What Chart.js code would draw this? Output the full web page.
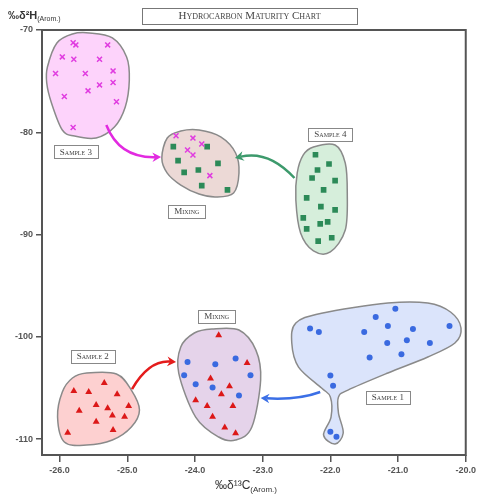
<!DOCTYPE html>
<html>
<head>
<meta charset="utf-8">
<script src="https://cdn.jsdelivr.net/npm/chart.js@4.4.1/dist/chart.umd.min.js"></script>
<style>
html, body { margin: 0; padding: 0; background: #fff; }
#wrap { width: 479px; height: 496px; }
</style>
</head>
<body>
<div id="wrap"><canvas id="chart"></canvas></div>
<script>
// tick values
const xTicks = [-26, -25, -24, -23, -22, -21, -20];
const yTicks = [-70, -80, -90, -100, -110];

// point series [d13C, d2H]
const sample3 = [[-25.80, -71.24], [-25.76, -71.46], [-25.29, -71.46], [-25.96, -72.63], [-25.79, -72.86],
    [-25.41, -72.86], [-26.06, -74.26], [-25.62, -74.26], [-25.21, -74.0], [-25.41, -75.37],
    [-25.21, -75.14], [-25.58, -75.95], [-25.93, -76.5], [-25.16, -77.02], [-25.80, -79.53]];
const mixTopX = [[-24.28, -80.34], [-24.03, -80.57], [-23.90, -81.15], [-24.11, -81.74], [-24.03, -82.22], [-23.78, -84.24]];
const mixTopSq = [[-24.32, -81.41], [-23.82, -81.41], [-24.25, -82.78], [-23.66, -83.04], [-23.95, -83.69],
    [-24.16, -83.92], [-23.90, -85.22], [-23.52, -85.64]];
const sample4 = [[-22.22, -82.20], [-22.02, -83.10], [-22.19, -83.69], [-22.27, -84.47], [-21.93, -84.73],
    [-22.10, -85.64], [-22.35, -86.42], [-22.14, -87.27], [-21.93, -87.59], [-22.40, -88.37],
    [-22.15, -88.96], [-22.04, -88.76], [-22.35, -89.44], [-22.18, -90.65], [-21.98, -90.32]];
const sample2 = [[-25.34, -104.51], [-25.79, -105.29], [-25.57, -105.39], [-25.15, -105.61], [-25.46, -106.68],
    [-24.98, -106.78], [-25.29, -107.0], [-25.71, -107.24], [-25.22, -107.69], [-25.04, -107.82],
    [-25.46, -108.31], [-25.88, -109.39], [-25.21, -109.12]];
const mixLowTri = [[-23.65, -99.85], [-23.23, -102.56], [-23.77, -104.08], [-23.49, -104.83], [-23.61, -105.61],
    [-23.99, -106.20], [-23.82, -106.78], [-23.44, -106.78], [-23.74, -107.82], [-23.56, -108.86], [-23.40, -109.44]];
const mixLowDot = [[-24.11, -102.46], [-23.70, -102.68], [-23.40, -102.13], [-24.16, -103.76], [-23.18, -103.76],
    [-23.99, -104.63], [-23.74, -104.96], [-23.35, -105.74]];
const sample1 = [[-22.30, -99.20], [-22.17, -99.53], [-21.04, -97.25], [-21.33, -98.07], [-21.50, -99.53],
    [-21.15, -98.95], [-20.78, -99.24], [-20.24, -98.95], [-21.16, -100.60], [-20.87, -100.34],
    [-20.53, -100.60], [-20.95, -101.71], [-21.42, -102.03], [-22.00, -103.79], [-21.96, -104.80],
    [-22.00, -109.29], [-21.91, -109.78]];

// group outlines, data units
const hull3 = [[-26.18, -73.62], [-26.04, -71.27], [-25.81, -70.39], [-25.56, -70.29], [-25.22, -70.78],
    [-25.01, -72.64], [-24.97, -74.89], [-25.03, -77.53], [-25.19, -79.49], [-25.46, -80.56],
    [-25.78, -80.37], [-25.96, -79.78], [-26.12, -77.14], [-26.19, -75.18]];
const hullMixTop = [[-24.49, -82.52], [-24.41, -80.56], [-24.21, -79.88], [-23.94, -79.78], [-23.62, -80.46],
    [-23.40, -82.03], [-23.35, -83.99], [-23.43, -85.94], [-23.69, -86.33], [-23.94, -86.04],
    [-24.21, -85.16], [-24.41, -83.99]];
const hull4 = [[-22.25, -81.44], [-21.93, -81.25], [-21.78, -83.01], [-21.75, -85.94], [-21.78, -89.56],
    [-22.00, -91.70], [-22.25, -91.60], [-22.44, -89.85], [-22.51, -86.63], [-22.49, -83.99], [-22.40, -82.22]];
const hull2 = [[-25.60, -103.55], [-25.16, -103.64], [-24.94, -105.21], [-24.82, -107.16], [-24.94, -108.83],
    [-25.22, -110.10], [-25.60, -110.59], [-25.93, -110.29], [-26.03, -107.85], [-25.96, -105.40], [-25.81, -104.03]];
const hullMixLow = [[-23.75, -99.24], [-23.35, -99.34], [-23.10, -101.30], [-23.03, -104.23], [-23.16, -108.83],
    [-23.40, -110.10], [-23.65, -109.80], [-23.99, -107.85], [-24.24, -103.55], [-24.21, -101.00], [-24.01, -99.63]];
const hull1 = [[-22.51, -98.66], [-22.13, -97.70], [-21.15, -96.70], [-20.56, -96.70], [-20.22, -97.60],
    [-20.07, -99.14], [-20.16, -100.61], [-20.56, -101.98], [-21.15, -103.54], [-21.74, -105.21],
    [-21.88, -105.89], [-21.88, -107.46], [-21.81, -109.41], [-21.93, -110.49], [-22.10, -109.61],
    [-21.99, -107.85], [-22.00, -105.89], [-22.13, -105.01], [-22.47, -102.96], [-22.57, -100.61]];

// arrows: start, control, end
const arrow3 = [[-25.31, -79.29], [-25.12, -82.52], [-24.50, -82.42]];
const arrow4 = [[-22.53, -84.47], [-22.91, -81.74], [-23.41, -82.52]];
const arrow2 = [[-24.93, -105.11], [-24.68, -102.27], [-24.28, -102.47]];
const arrow1 = [[-22.15, -105.40], [-22.47, -106.19], [-23.03, -105.99]];

const labelNames = ['Sample 3', 'Mixing', 'Sample 4', 'Sample 2', 'Mixing', 'Sample 1'];
const labelSpots = [[-25.76, -81.93], [-24.12, -87.70], [-22.0, -80.17], [-25.51, -101.88], [-23.68, -97.97], [-21.15, -105.89]];

const hulls = [
    { pts: hull3, fill: '#fdd3fb' },
    { pts: hullMixTop, fill: '#ecd9d6' },
    { pts: hull4, fill: '#d6eedb' },
    { pts: hull2, fill: '#fdd0d0' },
    { pts: hullMixLow, fill: '#e5d3ea' },
    { pts: hull1, fill: '#dbe4fb' },
];
const arrows = [
    { pts: arrow3, color: '#e22ae0' },
    { pts: arrow4, color: '#3d9a6c' },
    { pts: arrow2, color: '#e41c1c' },
    { pts: arrow1, color: '#3b6fe6' },
];

const toXY = (arr) => arr.map(p => ({ x: p[0], y: p[1] }));

function smoothClosed(ctx, pts) {
    const n = pts.length;
    ctx.beginPath();
    ctx.moveTo(pts[0][0], pts[0][1]);
    for (let i = 0; i < n; i++) {
        const p0 = pts[(i - 1 + n) % n], p1 = pts[i], p2 = pts[(i + 1) % n], p3 = pts[(i + 2) % n];
        ctx.bezierCurveTo(
            p1[0] + (p2[0] - p0[0]) / 6, p1[1] + (p2[1] - p0[1]) / 6,
            p2[0] - (p3[0] - p1[0]) / 6, p2[1] - (p3[1] - p1[1]) / 6,
            p2[0], p2[1]);
    }
    ctx.closePath();
}

const decorations = {
    id: 'decorations',
    beforeDatasetsDraw(chart) {
        const { ctx, scales: { x, y } } = chart;
        const px = (p) => [x.getPixelForValue(p[0]), y.getPixelForValue(p[1])];
        ctx.save();
        hulls.forEach(h => {
            smoothClosed(ctx, h.pts.map(px));
            ctx.fillStyle = h.fill;
            ctx.fill();
            ctx.lineWidth = 1.5;
            ctx.strokeStyle = '#8a8a8a';
            ctx.stroke();
        });
        arrows.forEach(a => {
            const [s, c, e] = a.pts.map(px);
            ctx.strokeStyle = a.color;
            ctx.fillStyle = a.color;
            ctx.lineWidth = 2.5;
            const ang = Math.atan2(e[1] - c[1], e[0] - c[0]);
            const back = [e[0] - 6 * Math.cos(ang), e[1] - 6 * Math.sin(ang)];
            ctx.beginPath();
            ctx.moveTo(s[0], s[1]);
            ctx.quadraticCurveTo(c[0], c[1], back[0], back[1]);
            ctx.stroke();
            ctx.beginPath();
            ctx.moveTo(e[0], e[1]);
            ctx.lineTo(e[0] - 10 * Math.cos(ang - 0.5), e[1] - 10 * Math.sin(ang - 0.5));
            ctx.lineTo(back[0], back[1]);
            ctx.lineTo(e[0] - 10 * Math.cos(ang + 0.5), e[1] - 10 * Math.sin(ang + 0.5));
            ctx.closePath();
            ctx.fill();
        });
        ctx.restore();
    },
    afterDraw(chart) {
        const { ctx, chartArea: a, scales: { x, y } } = chart;
        ctx.save();
        // frame
        ctx.strokeStyle = '#555';
        ctx.lineWidth = 2;
        ctx.strokeRect(a.left, a.top, a.right - a.left, a.bottom - a.top);

        // group labels
        ctx.font = "small-caps 9px 'Liberation Serif'";
        ctx.fontVariantCaps = 'small-caps';
        ctx.textAlign = 'center';
        ctx.textBaseline = 'middle';
        labelNames.forEach((name, i) => {
            const cx = x.getPixelForValue(labelSpots[i][0]);
            const cy = y.getPixelForValue(labelSpots[i][1]);
            const w = ctx.measureText(name).width + 12;
            ctx.fillStyle = '#fff';
            ctx.fillRect(cx - w / 2, cy - 6.5, w, 13);
            ctx.strokeStyle = '#888';
            ctx.lineWidth = 1;
            ctx.strokeRect(Math.round(cx - w / 2) + 0.5, Math.round(cy - 6.5) + 0.5, Math.round(w), 13);
            ctx.fillStyle = '#444';
            ctx.fillText(name, cx, cy + 0.5);
        });

        // title box
        ctx.font = "small-caps 11px 'Liberation Serif'";
        ctx.fontVariantCaps = 'small-caps';
        ctx.fillStyle = '#444';
        ctx.fillText('Hydrocarbon Maturity Chart', 249.5, 16.5);
        ctx.strokeStyle = '#777';
        ctx.lineWidth = 1;
        ctx.strokeRect(142.5, 8.5, 215, 16);

        // y axis title
        ctx.fontVariantCaps = 'normal';
        ctx.textAlign = 'left';
        ctx.textBaseline = 'alphabetic';
        ctx.fillStyle = '#333';
        ctx.font = "bold 11px 'Liberation Sans'";
        ctx.fillText('‰δ²H', 8, 19);
        let w = ctx.measureText('‰δ²H').width;
        ctx.font = "7px 'Liberation Sans'";
        ctx.fillText('(Arom.)', 8 + w, 21);

        // x axis title
        ctx.font = "12px 'Liberation Sans'";
        const main = '‰δ¹³C';
        w = ctx.measureText(main).width;
        ctx.font = "8px 'Liberation Sans'";
        const sub = ctx.measureText('(Arom.)').width;
        const start = 246 - (w + sub) / 2;
        ctx.font = "12px 'Liberation Sans'";
        ctx.fillText(main, start, 489);
        ctx.font = "8px 'Liberation Sans'";
        ctx.fillText('(Arom.)', start + w, 492);
        ctx.restore();
    }
};

const tickFont = { family: "'Liberation Sans'", size: 9, weight: 'bold' };

new Chart(document.getElementById('chart'), {
    type: 'scatter',
    data: {
        datasets: [
            { data: toXY(sample3), pointStyle: 'crossRot', pointRadius: 3.5, borderColor: '#e03ce0', borderWidth: 1.5 },
            { data: toXY(mixTopX), pointStyle: 'crossRot', pointRadius: 3.5, borderColor: '#e03ce0', borderWidth: 1.5 },
            { data: toXY(mixTopSq), pointStyle: 'rect', pointRadius: 4, backgroundColor: '#2c8a58', borderColor: '#2c8a58', borderWidth: 0 },
            { data: toXY(sample4), pointStyle: 'rect', pointRadius: 4, backgroundColor: '#2c8a58', borderColor: '#2c8a58', borderWidth: 0 },
            { data: toXY(sample2), pointStyle: 'triangle', pointRadius: 4, backgroundColor: '#dc1818', borderColor: '#dc1818', borderWidth: 0 },
            { data: toXY(mixLowTri), pointStyle: 'triangle', pointRadius: 4, backgroundColor: '#dc1818', borderColor: '#dc1818', borderWidth: 0 },
            { data: toXY(mixLowDot), pointStyle: 'circle', pointRadius: 3, backgroundColor: '#3a6ae0', borderColor: '#3a6ae0', borderWidth: 0 },
            { data: toXY(sample1), pointStyle: 'circle', pointRadius: 3, backgroundColor: '#3a6ae0', borderColor: '#3a6ae0', borderWidth: 0 },
        ],
    },
    options: {
        responsive: true,
        maintainAspectRatio: false,
        animation: false,
        layout: { padding: { top: 30, right: 10, left: 0, bottom: 0 } },
        plugins: {
            legend: { display: false },
            tooltip: { enabled: false },
        },
        scales: {
            x: {
                type: 'linear',
                min: -26.26,
                max: -20,
                afterBuildTicks: (s) => { s.ticks = xTicks.map(v => ({ value: v })); },
                afterFit: (s) => { s.height = 41; },
                ticks: { callback: (v) => v.toFixed(1), font: tickFont, color: '#555', padding: 3, maxRotation: 0 },
                grid: { drawOnChartArea: false, drawTicks: true, tickLength: 7, color: '#555', lineWidth: 1.5 },
                border: { display: false },
            },
            y: {
                type: 'linear',
                min: -111.56,
                max: -70,
                afterBuildTicks: (s) => { s.ticks = yTicks.map(v => ({ value: v })); },
                afterFit: (s) => { s.width = 42; },
                ticks: { font: tickFont, color: '#555', padding: 3 },
                grid: { drawOnChartArea: false, drawTicks: true, tickLength: 6, color: '#555', lineWidth: 1.5 },
                border: { display: false },
            },
        },
    },
    plugins: [decorations],
});
</script>
</body>
</html>
